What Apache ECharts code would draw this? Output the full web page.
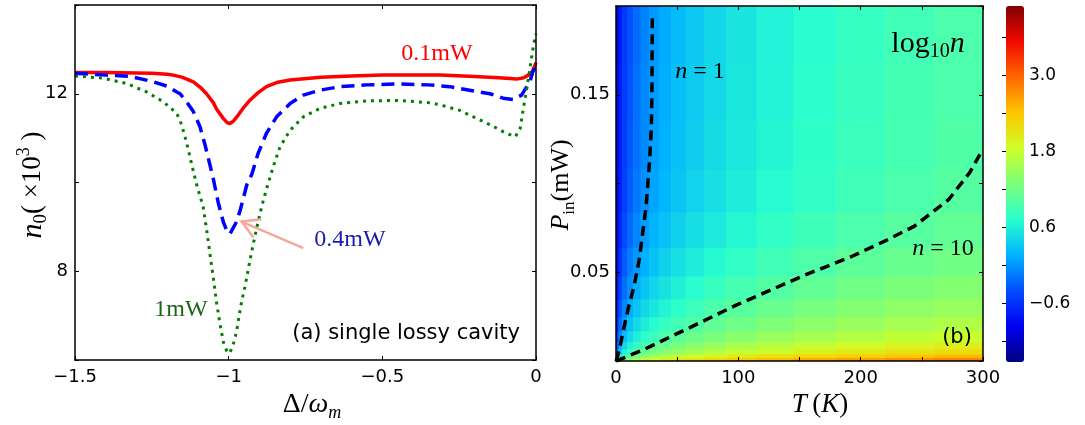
<!DOCTYPE html>
<html>
<head>
<meta charset="utf-8">
<script src="https://cdn.jsdelivr.net/npm/echarts@6/dist/echarts.min.js"></script>
<style>
  html, body { margin: 0; padding: 0; background: #fff; }
  #chart { width: 1085px; height: 425px; }
</style>
</head>
<body>
<div id="chart"></div>
<script>
// ---------- panel (a): n0 (x10^3) against detuning ----------
const red01mW = [[-1.5,12.48],[-1.4,12.48],[-1.3,12.47],[-1.25,12.46],[-1.2,12.44],[-1.18,12.42],[-1.15,12.37],[-1.115,12.27],[-1.09,12.13],[-1.072,12.0],[-1.05,11.8],[-1.039,11.65],[-1.017,11.44],[-1.005,11.35],[-0.996,11.33],[-0.985,11.38],[-0.969,11.52],[-0.95,11.7],[-0.93,11.86],[-0.905,12.02],[-0.877,12.16],[-0.84,12.26],[-0.8,12.31],[-0.7,12.37],[-0.6,12.4],[-0.5,12.42],[-0.4,12.42],[-0.312,12.42],[-0.2,12.39],[-0.12,12.36],[-0.063,12.33],[-0.04,12.36],[-0.025,12.42],[-0.012,12.5],[0,12.7]];
const blue04mW = [[-1.5,12.46],[-1.4,12.42],[-1.32,12.39],[-1.245,12.27],[-1.2,12.17],[-1.169,12.04],[-1.158,12.0],[-1.135,11.8],[-1.115,11.6],[-1.093,11.25],[-1.077,10.85],[-1.061,10.4],[-1.05,10.08],[-1.034,9.55],[-1.017,9.1],[-1.005,8.9],[-0.996,8.84],[-0.99,8.83],[-0.974,9.12],[-0.963,9.36],[-0.952,9.65],[-0.941,9.95],[-0.925,10.18],[-0.904,10.66],[-0.877,11.11],[-0.844,11.48],[-0.8,11.78],[-0.757,11.97],[-0.703,12.08],[-0.638,12.16],[-0.551,12.2],[-0.45,12.22],[-0.35,12.2],[-0.28,12.16],[-0.2,12.06],[-0.15,12.0],[-0.107,11.9],[-0.075,11.87],[-0.047,11.97],[-0.02,12.27],[-0.01,12.5],[0,12.65]];
const green1mW = [[-1.5,12.4],[-1.408,12.35],[-1.332,12.23],[-1.267,12.04],[-1.213,11.82],[-1.169,11.56],[-1.153,11.3],[-1.137,10.9],[-1.12,10.4],[-1.104,9.95],[-1.083,9.45],[-1.072,8.95],[-1.061,8.4],[-1.05,7.85],[-1.039,7.28],[-1.028,6.8],[-1.017,6.4],[-1.006,6.2],[-0.997,6.15],[-0.985,6.35],[-0.974,6.65],[-0.966,7.0],[-0.957,7.35],[-0.947,7.65],[-0.936,8.05],[-0.925,8.45],[-0.908,9.0],[-0.891,9.5],[-0.877,9.85],[-0.855,10.36],[-0.833,10.8],[-0.8,11.18],[-0.757,11.48],[-0.703,11.67],[-0.638,11.78],[-0.551,11.84],[-0.45,11.85],[-0.35,11.8],[-0.312,11.75],[-0.25,11.63],[-0.204,11.48],[-0.14,11.27],[-0.1,11.12],[-0.068,11.03],[-0.052,11.2],[-0.042,11.63],[-0.029,12.16],[-0.017,12.69],[-0.008,13.1],[0,13.35]];
const yLabelsA = [8, 12];
const arrowTail = [-0.757, 8.52];
const arrowTip = [-0.958, 9.12];

// ---------- panel (b): log10 n over T and P_in ----------
const tempEdges = [0, 2, 5, 9, 14, 20, 27, 35, 45, 57, 72, 90, 115, 145, 180, 220, 260, 300];
const powerEdges = [0, 0.0003, 0.0008, 0.002, 0.004, 0.007, 0.011, 0.017, 0.025, 0.035, 0.048, 0.064, 0.084, 0.108, 0.136, 0.168, 0.2];
// one row per power band, bottom to top
const logN = [
  [1.16, 1.71, 2.01, 2.22, 2.39, 2.53, 2.65, 2.76, 2.87, 2.97, 3.07, 3.17, 3.28, 3.37, 3.46, 3.54, 3.61],
  [0.73, 1.27, 1.57, 1.79, 1.95, 2.10, 2.22, 2.33, 2.43, 2.53, 2.63, 2.73, 2.84, 2.93, 3.03, 3.10, 3.17],
  [0.36, 0.90, 1.20, 1.41, 1.58, 1.72, 1.84, 1.96, 2.06, 2.16, 2.26, 2.36, 2.47, 2.56, 2.65, 2.73, 2.80],
  [0.06, 0.59, 0.88, 1.10, 1.27, 1.41, 1.53, 1.64, 1.74, 1.84, 1.94, 2.05, 2.15, 2.25, 2.34, 2.42, 2.48],
  [-0.18, 0.33, 0.63, 0.84, 1.01, 1.15, 1.27, 1.38, 1.49, 1.59, 1.69, 1.79, 1.89, 1.99, 2.08, 2.16, 2.22],
  [-0.37, 0.13, 0.42, 0.63, 0.80, 0.94, 1.06, 1.17, 1.27, 1.38, 1.47, 1.58, 1.68, 1.78, 1.87, 1.95, 2.01],
  [-0.53, -0.05, 0.24, 0.44, 0.61, 0.75, 0.87, 0.98, 1.08, 1.19, 1.28, 1.39, 1.49, 1.59, 1.68, 1.76, 1.82],
  [-0.66, -0.21, 0.07, 0.27, 0.44, 0.58, 0.70, 0.81, 0.91, 1.01, 1.11, 1.21, 1.31, 1.41, 1.50, 1.58, 1.65],
  [-0.77, -0.35, -0.08, 0.13, 0.29, 0.43, 0.54, 0.65, 0.76, 0.86, 0.96, 1.06, 1.16, 1.26, 1.35, 1.43, 1.49],
  [-0.85, -0.47, -0.21, -0.01, 0.15, 0.29, 0.41, 0.51, 0.62, 0.72, 0.82, 0.92, 1.02, 1.12, 1.21, 1.29, 1.35],
  [-0.92, -0.57, -0.32, -0.13, 0.03, 0.16, 0.28, 0.39, 0.49, 0.59, 0.69, 0.79, 0.89, 0.99, 1.08, 1.16, 1.22],
  [-0.98, -0.66, -0.42, -0.24, -0.08, 0.05, 0.17, 0.27, 0.38, 0.48, 0.57, 0.67, 0.78, 0.87, 0.96, 1.04, 1.11],
  [-1.01, -0.72, -0.49, -0.31, -0.15, -0.02, 0.09, 0.20, 0.30, 0.40, 0.49, 0.59, 0.70, 0.79, 0.88, 0.96, 1.03],
  [-1.02, -0.74, -0.52, -0.34, -0.19, -0.06, 0.06, 0.16, 0.26, 0.36, 0.46, 0.56, 0.66, 0.76, 0.85, 0.92, 0.99],
  [-1.03, -0.75, -0.53, -0.35, -0.20, -0.07, 0.04, 0.14, 0.25, 0.34, 0.44, 0.54, 0.64, 0.74, 0.83, 0.91, 0.97],
  [-1.04, -0.76, -0.54, -0.37, -0.22, -0.09, 0.03, 0.13, 0.23, 0.33, 0.43, 0.53, 0.63, 0.72, 0.81, 0.89, 0.96]
];
const contourN1 = [[0,0],[1.1,0.002],[3.5,0.009],[6.2,0.018],[10.5,0.031],[14.7,0.042],[19,0.057],[21.8,0.072],[24.6,0.087],[27.5,0.113],[28.9,0.132],[29.4,0.157],[29.7,0.195]];
const contourN10 = [[0,0],[3.4,0.0009],[23.2,0.0066],[60,0.0187],[96.8,0.031],[153,0.048],[193,0.059],[221,0.068],[244,0.076],[272,0.091],[289,0.106],[298,0.117]];
const xLabelsB = [0, 100, 200, 300];
const yLabelsB = [0.05, 0.15];
const cbMin = -1.52, cbMax = 4.1;
const cbTicks = [-1.2, -0.6, 0, 0.6, 1.2, 1.8, 2.4, 3.0, 3.6];
const cbLabels = [-0.6, 0.6, 1.8, 3.0];

const jet = ['#000080', '#0000f3', '#004cff', '#00b3ff', '#29ffce', '#7bff7b', '#ceff29', '#ffc600', '#ff6800', '#f30900', '#800000'];

// heat cells: [t0, t1, p0, p1, value]
const cells = [];
logN.forEach((row, j) => {
  row.forEach((v, i) => {
    cells.push([tempEdges[i], tempEdges[i + 1], powerEdges[j], powerEdges[j + 1], v]);
  });
});

const minus = v => (v < 0 ? '\u2212' + Math.abs(v) : String(v));
const near = (list, v) => list.some(t => Math.abs(t - v) < 1e-9);

const tickFont = { color: '#000', fontFamily: 'DejaVu Sans', fontSize: 18 };
function frameAxis(extra) {
  return Object.assign({
    type: 'value',
    axisLine: { show: true, onZero: false, lineStyle: { color: '#000', width: 1.5 } },
    axisTick: { show: true, inside: true, length: 4, lineStyle: { color: '#000', width: 1 } },
    splitLine: { show: false },
    axisLabel: { show: false },
    z: 5
  }, extra);
}

const chart = echarts.init(document.getElementById('chart'));

const option = {
  animation: false,
  backgroundColor: '#fff',
  grid: [
    { left: 75, top: 5, width: 461, height: 355 },
    { left: 616, top: 6, width: 367, height: 355 },
    { left: 1006, top: 6, width: 18, height: 356 }
  ],
  xAxis: [
    frameAxis({ gridIndex: 0, position: 'bottom', min: -1.5, max: 0, interval: 0.5,
      axisLabel: Object.assign({ show: true, margin: 8, formatter: minus }, tickFont) }),
    frameAxis({ gridIndex: 0, position: 'top', min: -1.5, max: 0, interval: 0.5 }),
    frameAxis({ gridIndex: 1, position: 'bottom', min: 0, max: 300, interval: 50,
      axisLabel: Object.assign({ show: true, margin: 8, formatter: v => (near(xLabelsB, v) ? String(v) : '') }, tickFont) }),
    frameAxis({ gridIndex: 1, position: 'top', min: 0, max: 300, interval: 50 }),
    { type: 'value', gridIndex: 2, show: false, min: 0, max: 1 }
  ],
  yAxis: [
    frameAxis({ gridIndex: 0, position: 'left', min: 6, max: 14, interval: 2,
      axisLabel: Object.assign({ show: true, margin: 7, formatter: v => (near(yLabelsA, v) ? String(v) : '') }, tickFont) }),
    frameAxis({ gridIndex: 0, position: 'right', min: 6, max: 14, interval: 2 }),
    frameAxis({ gridIndex: 1, position: 'left', min: 0, max: 0.2, interval: 0.05,
      axisLabel: Object.assign({ show: true, margin: 6, formatter: v => (near(yLabelsB, v) ? String(v) : '') }, tickFont) }),
    frameAxis({ gridIndex: 1, position: 'right', min: 0, max: 0.2, interval: 0.05 }),
    {
      type: 'value', gridIndex: 2, position: 'right', min: cbMin, max: cbMax, z: 5,
      axisLine: { show: false },
      splitLine: { show: false },
      axisTick: { show: true, inside: true, length: 4, customValues: cbTicks, lineStyle: { color: '#000', width: 1 } },
      axisLabel: { show: true, margin: 5, customValues: cbLabels, color: '#000', fontFamily: 'DejaVu Sans', fontSize: 17,
        formatter: v => (v < 0 ? '\u2212' + Math.abs(v).toFixed(1) : v.toFixed(1)) }
    }
  ],
  visualMap: {
    type: 'continuous',
    seriesIndex: 3,
    dimension: 4,
    min: cbMin,
    max: cbMax,
    left: 1006,
    top: 6,
    itemWidth: 18,
    itemHeight: 356,
    padding: 0,
    calculable: false,
    hoverLink: false,
    text: null,
    inRange: { color: jet }
  },
  series: [
    { type: 'line', name: '0.1mW', xAxisIndex: 0, yAxisIndex: 0, data: red01mW, showSymbol: false,
      lineStyle: { color: '#ff0000', width: 3.5 } },
    { type: 'line', name: '0.4mW', xAxisIndex: 0, yAxisIndex: 0, data: blue04mW, showSymbol: false,
      lineStyle: { color: '#0000ff', width: 3.5, type: [13, 7] } },
    { type: 'line', name: '1mW', xAxisIndex: 0, yAxisIndex: 0, data: green1mW, showSymbol: false,
      lineStyle: { color: '#008000', width: 3, type: [3, 5] } },
    {
      type: 'custom', xAxisIndex: 2, yAxisIndex: 2, z: 1, clip: true,
      encode: { x: [0, 1], y: [2, 3] },
      data: cells,
      renderItem: function (params, api) {
        const a = api.coord([api.value(0), api.value(3)]);
        const b = api.coord([api.value(1), api.value(2)]);
        return {
          type: 'rect',
          shape: { x: a[0], y: a[1], width: b[0] - a[0] + 0.6, height: b[1] - a[1] + 0.6 },
          style: { fill: api.visual('color') }
        };
      }
    },
    { type: 'line', name: 'n=1', xAxisIndex: 2, yAxisIndex: 2, data: contourN1, showSymbol: false, z: 3,
      lineStyle: { color: '#000', width: 3.5, type: [10, 6] } },
    { type: 'line', name: 'n=10', xAxisIndex: 2, yAxisIndex: 2, data: contourN10, showSymbol: false, z: 3,
      lineStyle: { color: '#000', width: 3.5, type: [10, 6] } }
  ]
};
chart.setOption(option);

// annotations
const serif = 'Liberation Serif';
function label(x, y, text, rich, extra) {
  return Object.assign({
    type: 'text', x: x, y: y, z: 10,
    style: { text: text, rich: rich, align: 'center', verticalAlign: 'middle', fill: '#000' }
  }, extra || {});
}
const it = (s, c) => ({ fontFamily: serif, fontStyle: 'italic', fontSize: s, fill: c || '#000', verticalAlign: 'middle' });
const rm = (s, c) => ({ fontFamily: serif, fontSize: s, fill: c || '#000', verticalAlign: 'middle' });
const sub = (s, st) => ({ fontFamily: serif, fontStyle: st || 'normal', fontSize: s, fill: '#000', verticalAlign: 'bottom', padding: [0, 0, 0, 0] });
const sup = s => ({ fontFamily: serif, fontSize: s, fill: '#000', verticalAlign: 'top' });

const tip = chart.convertToPixel({ xAxisIndex: 0, yAxisIndex: 0 }, arrowTip);
const tail = chart.convertToPixel({ xAxisIndex: 0, yAxisIndex: 0 }, arrowTail);
const ang = Math.atan2(tail[1] - tip[1], tail[0] - tip[0]);
const headLen = 20, spread = Math.PI / 6;
const h1 = [tip[0] + headLen * Math.cos(ang - spread), tip[1] + headLen * Math.sin(ang - spread)];
const h2 = [tip[0] + headLen * Math.cos(ang + spread), tip[1] + headLen * Math.sin(ang + spread)];
const arrowStyle = { stroke: '#f5a89c', lineWidth: 2.5, fill: null };

chart.setOption({
  graphic: [
    { type: 'line', z: 10, shape: { x1: tail[0], y1: tail[1], x2: tip[0], y2: tip[1] }, style: arrowStyle },
    { type: 'polyline', z: 10, shape: { points: [h1, tip, h2] }, style: arrowStyle },
    label(437, 54, '{a|0.1mW}', { a: rm(24, '#ff0000') }),
    label(350, 240, '{a|0.4mW}', { a: rm(24, '#1a1ab0') }),
    label(181, 310, '{a|1mW}', { a: rm(24, '#1a661a') }),
    { type: 'text', x: 520, y: 334, z: 10,
      style: { text: '(a) single lossy cavity', fontFamily: 'DejaVu Sans', fontSize: 21, fill: '#000', align: 'right', verticalAlign: 'middle' } },
    label(33, 185, '{i|n}{s|0}{r|( \u00d710}{p|3}{r| )}',
      { i: Object.assign(it(30), { lineHeight: 36 }), s: sub(19), r: rm(27), p: sup(18) },
      { rotation: Math.PI / 2 }),
    label(312, 405, '{r|\u0394/}{i|\u03c9}{s|m}',
      { r: Object.assign(rm(28), { lineHeight: 34 }), i: it(28), s: sub(18, 'italic') }),
    label(928, 44, '{r|log}{s|10}{i|n}',
      { r: Object.assign(rm(30), { lineHeight: 36 }), s: sub(20), i: it(30) }),
    label(700, 72, '{i|n}{r| = 1}', { i: it(24), r: rm(24) }),
    label(943, 249, '{i|n}{r| = 10}', { i: it(24), r: rm(24) }),
    { type: 'text', x: 957, y: 338, z: 10,
      style: { text: '(b)', fontFamily: 'DejaVu Sans', fontSize: 21, fill: '#000', align: 'center', verticalAlign: 'middle' } },
    label(561, 185, '{i|P}{s|in}{r|(mW)}',
      { i: Object.assign(it(26), { lineHeight: 34 }), s: sub(17), r: rm(26) },
      { rotation: Math.PI / 2 }),
    label(820, 405, '{i|T}{r|\u2009(}{i|K}{r|)}', { i: it(27), r: rm(27) })
  ]
});
</script>
</body>
</html>
